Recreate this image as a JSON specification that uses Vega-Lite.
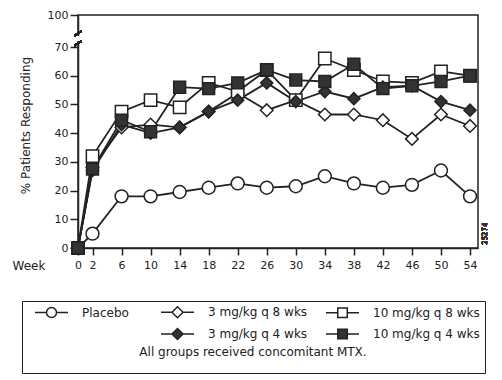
{
  "$schema": "https://vega.github.io/schema/vega-lite/v6.json",
  "width": 400,
  "height": 233,
  "autosize": {"type": "none"},
  "padding": {"left": 78, "top": 15, "right": 24, "bottom": 132},
  "background": "white",
  "config": {
    "font": "DejaVu Sans",
    "view": {"stroke": "#222", "strokeWidth": 1.5},
    "axis": {"domainColor": "#222", "domainWidth": 1.5, "tickColor": "#222", "tickWidth": 1.5, "labelColor": "#222", "titleColor": "#222", "grid": false, "labelFont": "DejaVu Sans", "titleFont": "DejaVu Sans", "titleFontWeight": "normal", "labelFontSize": 11, "titleFontSize": 12, "labelFlush": false, "labelOverlap": false},
    "legend": {"orient": "none", "legendX": -56, "legendY": 286, "direction": "horizontal", "columns": 3,
      "titleOrient": "bottom", "titleAnchor": "middle", "titleLimit": 460,
      "titleFontSize": 12, "titleFontWeight": "normal", "titleColor": "#222", "titleLineHeight": 10, "titlePadding": 4, "titleFont": "DejaVu Sans",
      "labelFontSize": 12, "labelColor": "#222", "labelFont": "DejaVu Sans", "labelLimit": 300,
      "symbolSize": 100, "symbolStrokeWidth": 1.5, "symbolOffset": 18.5, "labelOffset": 24.5,
      "rowPadding": 4, "columnPadding": 10, "padding": 5, "strokeColor": "#222", "fillColor": "white"}
  },
  "data": {"values": [
    {"week": 0, "series": "Placebo", "pct": 0},
    {"week": 2, "series": "Placebo", "pct": 5},
    {"week": 6, "series": "Placebo", "pct": 18},
    {"week": 10, "series": "Placebo", "pct": 18},
    {"week": 14, "series": "Placebo", "pct": 19.5},
    {"week": 18, "series": "Placebo", "pct": 21},
    {"week": 22, "series": "Placebo", "pct": 22.5},
    {"week": 26, "series": "Placebo", "pct": 21},
    {"week": 30, "series": "Placebo", "pct": 21.5},
    {"week": 34, "series": "Placebo", "pct": 25},
    {"week": 38, "series": "Placebo", "pct": 22.5},
    {"week": 42, "series": "Placebo", "pct": 21},
    {"week": 46, "series": "Placebo", "pct": 22},
    {"week": 50, "series": "Placebo", "pct": 27},
    {"week": 54, "series": "Placebo", "pct": 18},
    {"week": 0, "series": "3 mg/kg q 8 wks", "pct": 0},
    {"week": 2, "series": "3 mg/kg q 8 wks", "pct": 28},
    {"week": 6, "series": "3 mg/kg q 8 wks", "pct": 42},
    {"week": 10, "series": "3 mg/kg q 8 wks", "pct": 43},
    {"week": 14, "series": "3 mg/kg q 8 wks", "pct": 42},
    {"week": 18, "series": "3 mg/kg q 8 wks", "pct": 47.5},
    {"week": 22, "series": "3 mg/kg q 8 wks", "pct": 54},
    {"week": 26, "series": "3 mg/kg q 8 wks", "pct": 48},
    {"week": 30, "series": "3 mg/kg q 8 wks", "pct": 51.5},
    {"week": 34, "series": "3 mg/kg q 8 wks", "pct": 46.5},
    {"week": 38, "series": "3 mg/kg q 8 wks", "pct": 46.5},
    {"week": 42, "series": "3 mg/kg q 8 wks", "pct": 44.5},
    {"week": 46, "series": "3 mg/kg q 8 wks", "pct": 38},
    {"week": 50, "series": "3 mg/kg q 8 wks", "pct": 46.5},
    {"week": 54, "series": "3 mg/kg q 8 wks", "pct": 42.5},
    {"week": 0, "series": "10 mg/kg q 8 wks", "pct": 0},
    {"week": 2, "series": "10 mg/kg q 8 wks", "pct": 32},
    {"week": 6, "series": "10 mg/kg q 8 wks", "pct": 47.5},
    {"week": 10, "series": "10 mg/kg q 8 wks", "pct": 51.5},
    {"week": 14, "series": "10 mg/kg q 8 wks", "pct": 49},
    {"week": 18, "series": "10 mg/kg q 8 wks", "pct": 57.5},
    {"week": 22, "series": "10 mg/kg q 8 wks", "pct": 54.5},
    {"week": 26, "series": "10 mg/kg q 8 wks", "pct": 62},
    {"week": 30, "series": "10 mg/kg q 8 wks", "pct": 51.5},
    {"week": 34, "series": "10 mg/kg q 8 wks", "pct": 66},
    {"week": 38, "series": "10 mg/kg q 8 wks", "pct": 62},
    {"week": 42, "series": "10 mg/kg q 8 wks", "pct": 58},
    {"week": 46, "series": "10 mg/kg q 8 wks", "pct": 57.5},
    {"week": 50, "series": "10 mg/kg q 8 wks", "pct": 61.5},
    {"week": 54, "series": "10 mg/kg q 8 wks", "pct": 60},
    {"week": 0, "series": "3 mg/kg q 4 wks", "pct": 0},
    {"week": 2, "series": "3 mg/kg q 4 wks", "pct": 27},
    {"week": 6, "series": "3 mg/kg q 4 wks", "pct": 43},
    {"week": 10, "series": "3 mg/kg q 4 wks", "pct": 40},
    {"week": 14, "series": "3 mg/kg q 4 wks", "pct": 42},
    {"week": 18, "series": "3 mg/kg q 4 wks", "pct": 47.5},
    {"week": 22, "series": "3 mg/kg q 4 wks", "pct": 51.5},
    {"week": 26, "series": "3 mg/kg q 4 wks", "pct": 57.5},
    {"week": 30, "series": "3 mg/kg q 4 wks", "pct": 51},
    {"week": 34, "series": "3 mg/kg q 4 wks", "pct": 54.5},
    {"week": 38, "series": "3 mg/kg q 4 wks", "pct": 52},
    {"week": 42, "series": "3 mg/kg q 4 wks", "pct": 56},
    {"week": 46, "series": "3 mg/kg q 4 wks", "pct": 56.5},
    {"week": 50, "series": "3 mg/kg q 4 wks", "pct": 51},
    {"week": 54, "series": "3 mg/kg q 4 wks", "pct": 48},
    {"week": 0, "series": "10 mg/kg q 4 wks", "pct": 0},
    {"week": 2, "series": "10 mg/kg q 4 wks", "pct": 27.5},
    {"week": 6, "series": "10 mg/kg q 4 wks", "pct": 44.5},
    {"week": 10, "series": "10 mg/kg q 4 wks", "pct": 40.5},
    {"week": 14, "series": "10 mg/kg q 4 wks", "pct": 56},
    {"week": 18, "series": "10 mg/kg q 4 wks", "pct": 55.5},
    {"week": 22, "series": "10 mg/kg q 4 wks", "pct": 57.5},
    {"week": 26, "series": "10 mg/kg q 4 wks", "pct": 62},
    {"week": 30, "series": "10 mg/kg q 4 wks", "pct": 58.5},
    {"week": 34, "series": "10 mg/kg q 4 wks", "pct": 58},
    {"week": 38, "series": "10 mg/kg q 4 wks", "pct": 64},
    {"week": 42, "series": "10 mg/kg q 4 wks", "pct": 55.5},
    {"week": 46, "series": "10 mg/kg q 4 wks", "pct": 56.5},
    {"week": 50, "series": "10 mg/kg q 4 wks", "pct": 58},
    {"week": 54, "series": "10 mg/kg q 4 wks", "pct": 60}
  ]},
  "encoding": {
    "x": {"field": "week", "type": "quantitative", "scale": {"domain": [0, 55.1], "nice": false, "zero": false},
      "axis": {"values": [0, 2, 6, 10, 14, 18, 22, 26, 30, 34, 38, 42, 46, 50, 54], "tickSize": 7, "labelPadding": 4, "title": "Week", "titleX": -66, "titleY": 17, "titleAlign": "left", "titleAnchor": "start", "titleBaseline": "middle", "titleAngle": 0}},
    "y": {"field": "pct", "type": "quantitative", "scale": {"domain": [0, 81.15], "nice": false},
      "axis": {"values": [0, 10, 20, 30, 40, 50, 60, 70, 81.15], "labelExpr": "datum.value > 75 ? '100' : datum.label", "tickSize": 8, "labelPadding": 2, "title": "% Patients Responding", "titlePadding": 15, "titleY": 110}}
  },
  "layer": [
    {
      "mark": {"type": "line", "color": "#222", "strokeWidth": 1.8},
      "encoding": {"detail": {"field": "series", "type": "nominal"}}
    },
    {
      "mark": {"type": "point", "filled": true, "stroke": "#222", "strokeWidth": 1.5, "opacity": 1},
      "encoding": {
        "shape": {"field": "series", "type": "nominal", "legend": null,
          "scale": {"domain": ["Placebo", "3 mg/kg q 8 wks", "10 mg/kg q 8 wks", "3 mg/kg q 4 wks", "10 mg/kg q 4 wks"], "range": ["circle", "diamond", "square", "diamond", "square"]}},
        "fill": {"field": "series", "type": "nominal", "legend": null,
          "scale": {"domain": ["Placebo", "3 mg/kg q 8 wks", "10 mg/kg q 8 wks", "3 mg/kg q 4 wks", "10 mg/kg q 4 wks"], "range": ["white", "white", "white", "#333", "#333"]}},
        "size": {"field": "series", "type": "nominal", "legend": null,
          "scale": {"domain": ["Placebo", "3 mg/kg q 8 wks", "10 mg/kg q 8 wks", "3 mg/kg q 4 wks", "10 mg/kg q 4 wks"], "range": [165, 140, 125, 125, 140]}}
      }
    },
    {
      "transform": [{"filter": "false"}],
      "mark": {"type": "point", "filled": true, "strokeWidth": 1.5, "opacity": 1},
      "encoding": {
        "shape": {"field": "series", "type": "nominal",
          "scale": {"domain": ["Placebo", "3 mg/kg q 8 wks", "10 mg/kg q 8 wks", "_blank", "3 mg/kg q 4 wks", "10 mg/kg q 4 wks"],
            "range": [
              "M-3.3,0H-1M1,0H3.3M1,0A1,1 0 1,1 -1,0A1,1 0 1,1 1,0Z",
              "M-3.3,0H-1.1M1.1,0H3.3M-1.1,0L0,-1.1L1.1,0L0,1.1Z",
              "M-3.3,0H-0.95M0.95,0H3.3M-0.95,-0.95H0.95V0.95H-0.95Z",
              "M0,0",
              "M-3.3,0H-1.1M1.1,0H3.3M-1.1,0L0,-1.1L1.1,0L0,1.1Z",
              "M-3.3,0H-0.95M0.95,0H3.3M-0.95,-0.95H0.95V0.95H-0.95Z"
            ]},
          "legend": {
            "title": ["All groups received concomitant MTX.", "\u00a0"],
            "labelExpr": "datum.value == '_blank' ? 'Placeboxx' : datum.value",
            "labelOpacity": {"expr": "datum.value == '_blank' ? 0 : 1"}
          }},
        "fill": {"field": "series", "type": "nominal",
          "scale": {"domain": ["Placebo", "3 mg/kg q 8 wks", "10 mg/kg q 8 wks", "_blank", "3 mg/kg q 4 wks", "10 mg/kg q 4 wks"], "range": ["white", "white", "white", "transparent", "#333", "#333"]},
          "legend": {
            "title": ["All groups received concomitant MTX.", "\u00a0"],
            "labelExpr": "datum.value == '_blank' ? 'Placeboxx' : datum.value",
            "labelOpacity": {"expr": "datum.value == '_blank' ? 0 : 1"}
          }},
        "stroke": {"field": "series", "type": "nominal",
          "scale": {"domain": ["Placebo", "3 mg/kg q 8 wks", "10 mg/kg q 8 wks", "_blank", "3 mg/kg q 4 wks", "10 mg/kg q 4 wks"], "range": ["#222", "#222", "#222", "transparent", "#222", "#222"]},
          "legend": {
            "title": ["All groups received concomitant MTX.", "\u00a0"],
            "labelExpr": "datum.value == '_blank' ? 'Placeboxx' : datum.value",
            "labelOpacity": {"expr": "datum.value == '_blank' ? 0 : 1"}
          }}
      }
    },
    {
      "mark": {"type": "rule", "color": "white", "strokeWidth": 4},
      "encoding": {"x": {"datum": 0}, "y": {"datum": 72.1}, "y2": {"datum": 73.8}}
    },
    {
      "mark": {"type": "rule", "color": "#222", "strokeWidth": 1.5},
      "encoding": {"x": {"datum": -0.5}, "x2": {"datum": 0.5}, "y": {"datum": 73.9}, "y2": {"datum": 75.6}}
    },
    {
      "mark": {"type": "rule", "color": "#222", "strokeWidth": 1.5},
      "encoding": {"x": {"datum": -0.5}, "x2": {"datum": 0.5}, "y": {"datum": 70.4}, "y2": {"datum": 72.1}}
    },
    {
      "mark": {"type": "text", "angle": 270, "fontSize": 7, "color": "#333", "font": "DejaVu Sans"},
      "encoding": {"x": {"datum": 56.1}, "y": {"datum": 5}, "text": {"value": "25274"}}
    }
  ],
  "resolve": {"scale": {"shape": "independent", "fill": "independent", "size": "independent", "stroke": "independent"}}
}
